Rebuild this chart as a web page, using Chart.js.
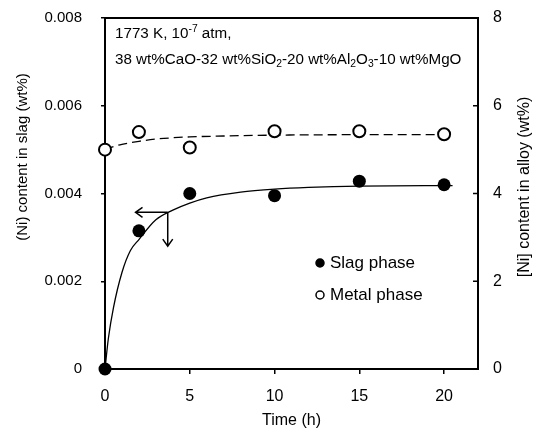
<!DOCTYPE html>
<html>
<head>
<meta charset="utf-8">
<script src="https://cdn.jsdelivr.net/npm/chart.js@4.4.0/dist/chart.umd.min.js"></script>
<style>
  body { margin: 0; background: #fff; }
</style>
</head>
<body>
<canvas id="myChart" width="541" height="430"></canvas>
<script>
// measured points
const times = [0, 2, 5, 10, 15, 20];
const slagNi = [0, 0.00315, 0.0040, 0.00395, 0.00428, 0.0042];
const metalNi = [5.0, 5.4, 5.05, 5.42, 5.42, 5.35];

// fitted curves
const slagFitT = [0, 0.2, 0.5, 1, 1.5, 2, 3, 4, 5, 6, 8, 10, 12, 15, 20.5];
const slagFit = [0, 0.0007, 0.0014, 0.0022, 0.0027, 0.00295, 0.0034, 0.00362, 0.00378, 0.0039, 0.00403, 0.0041, 0.00414, 0.00417, 0.00418];
const metalFitT = [0, 0.5, 1, 2, 3, 4, 5, 7, 10, 15, 20.5];
const metalFit = [5.0, 5.07, 5.12, 5.19, 5.24, 5.27, 5.29, 5.31, 5.33, 5.34, 5.34];

const xTicks = [0, 5, 10, 15, 20];
const slagTicks = [0, 0.002, 0.004, 0.006, 0.008];
const alloyTicks = [0, 2, 4, 6, 8];

const FONT = '"Liberation Sans", Arial, sans-serif';
Chart.defaults.font.family = FONT;
Chart.defaults.color = '#000';

const pts = (xs, ys) => xs.map((x, i) => ({ x: x, y: ys[i] }));

function vText(ctx, text, x, y, size) {
  ctx.save();
  ctx.font = size + 'px ' + FONT;
  ctx.textAlign = 'center';
  ctx.textBaseline = 'middle';
  ctx.translate(x, y);
  ctx.rotate(-Math.PI / 2);
  ctx.fillText(text, 0, 0);
  ctx.restore();
}

// frame top line, inward ticks on right axis, both y titles
const frame = {
  id: 'frame',
  beforeDatasetsDraw(chart) {
    const { ctx, chartArea: a, scales } = chart;
    ctx.save();
    ctx.strokeStyle = '#000';
    ctx.lineWidth = 2;
    ctx.beginPath();
    ctx.moveTo(a.left - 1, a.top);
    ctx.lineTo(a.right + 1, a.top);
    ctx.stroke();
    ctx.lineWidth = 1.5;
    alloyTicks.forEach(v => {
      const y = scales.y2.getPixelForValue(v);
      ctx.beginPath();
      ctx.moveTo(a.right - 5, y);
      ctx.lineTo(a.right, y);
      ctx.stroke();
    });
    ctx.fillStyle = '#000';
    vText(ctx, '(Ni) content in slag (wt%)', 23, 157, 15);
    vText(ctx, '[Ni] content in alloy (wt%)', 525, 187, 16);
    ctx.restore();
  }
};

// the two arrows pointing at the left and bottom axes
const arrows = {
  id: 'arrows',
  afterDatasetsDraw(chart) {
    const { ctx, scales } = chart;
    const cx = scales.x.getPixelForValue(3.7), cy = scales.y.getPixelForValue(0.00357);
    const lx = scales.x.getPixelForValue(1.8), dy = scales.y.getPixelForValue(0.0028);
    ctx.save();
    ctx.strokeStyle = '#000';
    ctx.lineWidth = 1.5;
    ctx.beginPath();
    ctx.moveTo(cx, cy); ctx.lineTo(lx, cy);
    ctx.moveTo(lx + 7, cy - 5); ctx.lineTo(lx, cy); ctx.lineTo(lx + 7, cy + 5);
    ctx.moveTo(cx, cy); ctx.lineTo(cx, dy);
    ctx.moveTo(cx - 5, dy - 7); ctx.lineTo(cx, dy); ctx.lineTo(cx + 5, dy - 7);
    ctx.stroke();
    ctx.restore();
  }
};

function richText(ctx, parts, x, y, size) {
  parts.forEach(p => {
    const kind = p[1];
    const fs = kind ? size * 0.68 : size;
    ctx.font = fs + 'px ' + FONT;
    const off = kind === 'sup' ? -size * 0.3 : kind === 'sub' ? size * 0.28 : 0;
    ctx.fillText(p[0], x, y + off);
    x += ctx.measureText(p[0]).width;
  });
}

// condition note and in-plot legend
const notes = {
  id: 'notes',
  afterDraw(chart) {
    const { ctx, chartArea: a } = chart;
    ctx.save();
    ctx.fillStyle = '#000';
    ctx.textBaseline = 'middle';
    ctx.textAlign = 'left';
    richText(ctx, [['1773 K, 10'], ['-7', 'sup'], [' atm,']], a.left + 10, 34, 15.2);
    richText(ctx, [['38 wt%CaO-32 wt%SiO'], ['2', 'sub'], ['-20 wt%Al'], ['2', 'sub'], ['O'], ['3', 'sub'], ['-10 wt%MgO']], a.left + 10, 60, 15.2);

    const items = chart.data.datasets.filter(d => d.showInLegend);
    items.forEach((d, i) => {
      const y = 263 + i * 32;
      ctx.beginPath();
      ctx.arc(320, y, 4, 0, Math.PI * 2);
      ctx.fillStyle = d.pointBackgroundColor;
      ctx.fill();
      ctx.lineWidth = 1.5;
      ctx.strokeStyle = '#000';
      ctx.stroke();
      ctx.fillStyle = '#000';
      ctx.font = '17px ' + FONT;
      ctx.fillText(d.label, 330, y);
    });
    ctx.restore();
  }
};

// fixed axis box sizes so the plot area matches the figure
const fixY = w => s => { s.width = w; s.paddingTop = 0; s.paddingBottom = 0; };

const ctx = document.getElementById('myChart').getContext('2d');
const myChart = new Chart(ctx, {
  type: 'scatter',
  data: {
    datasets: [
      {
        label: 'Slag phase',
        showInLegend: true,
        data: pts(times, slagNi),
        yAxisID: 'y',
        pointRadius: 6.5,
        pointBackgroundColor: '#000',
        pointBorderColor: '#000',
        pointBorderWidth: 0,
        clip: false,
        order: 0
      },
      {
        label: 'Metal phase',
        showInLegend: true,
        data: pts(times, metalNi),
        yAxisID: 'y2',
        pointRadius: 6,
        pointBackgroundColor: '#fff',
        pointBorderColor: '#000',
        pointBorderWidth: 2,
        clip: false,
        order: 0
      },
      {
        label: 'slag fit',
        data: pts(slagFitT, slagFit),
        yAxisID: 'y',
        showLine: true,
        pointRadius: 0,
        borderColor: '#000',
        borderWidth: 1.3,
        cubicInterpolationMode: 'monotone',
        order: 1
      },
      {
        label: 'metal fit',
        data: pts(metalFitT, metalFit),
        yAxisID: 'y2',
        showLine: true,
        pointRadius: 0,
        borderColor: '#000',
        borderWidth: 1.3,
        borderDash: [9, 5],
        cubicInterpolationMode: 'monotone',
        order: 1
      }
    ]
  },
  options: {
    responsive: false,
    animation: false,
    layout: { padding: { top: 18, left: 0, right: 0, bottom: 0 } },
    plugins: { legend: { display: false }, tooltip: { enabled: false } },
    scales: {
      x: {
        type: 'linear',
        min: 0,
        max: 22,
        afterBuildTicks: s => { s.ticks = xTicks.map(v => ({ value: v })); },
        afterFit: s => { s.height = 61; },
        grid: { drawOnChartArea: false, drawTicks: true, tickLength: 5, color: '#000', lineWidth: 1.5 },
        border: { color: '#000', width: 2 },
        ticks: { font: { size: 16 }, padding: 13, maxRotation: 0 },
        title: { display: true, text: 'Time (h)', font: { size: 16 }, padding: { top: 0, bottom: 0 } }
      },
      y: {
        position: 'left',
        min: 0,
        max: 0.008,
        afterBuildTicks: s => { s.ticks = slagTicks.map(v => ({ value: v })); },
        afterFit: fixY(105),
        grid: { drawOnChartArea: false, drawTicks: true, tickLength: 4, color: '#000', lineWidth: 1.5 },
        border: { color: '#000', width: 2 },
        ticks: { font: { size: 15 }, padding: 19, callback: v => v === 0 ? '0' : v.toFixed(3) }
      },
      y2: {
        position: 'right',
        min: 0,
        max: 8,
        afterBuildTicks: s => { s.ticks = alloyTicks.map(v => ({ value: v })); },
        afterFit: fixY(63),
        grid: { drawOnChartArea: false, drawTicks: false },
        border: { color: '#000', width: 2 },
        ticks: { font: { size: 16 }, padding: 15 }
      }
    }
  },
  plugins: [frame, arrows, notes]
});
</script>
</body>
</html>
